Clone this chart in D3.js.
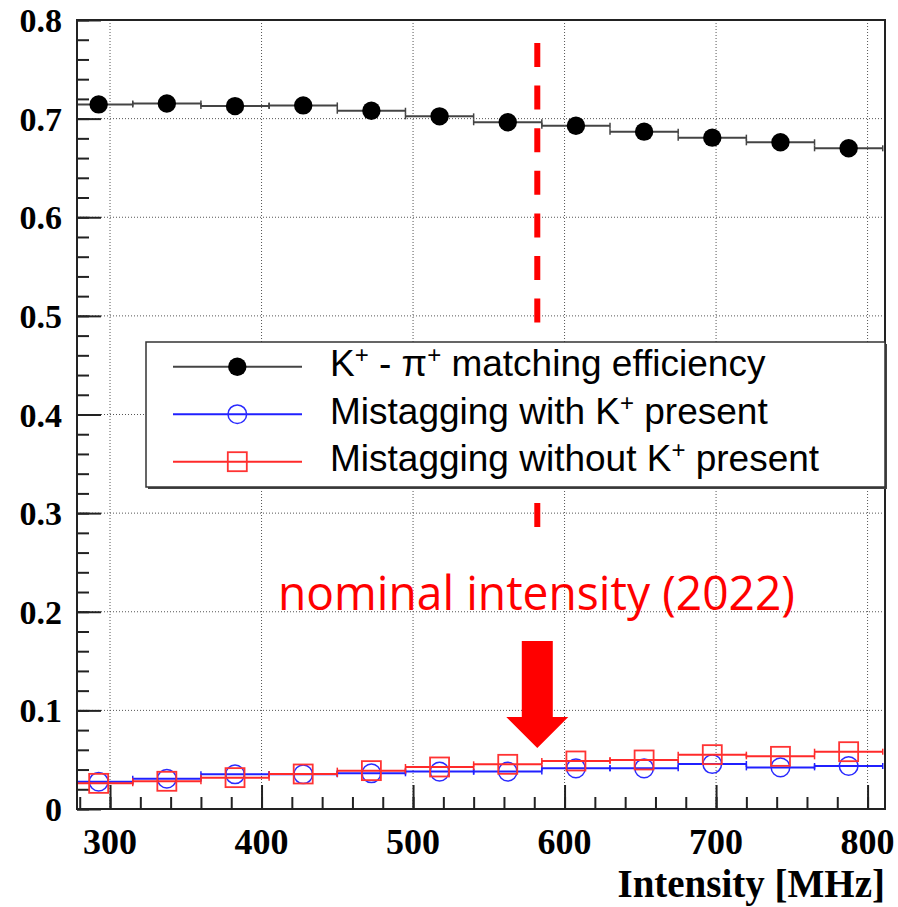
<!doctype html>
<html>
  <head>
    <script src="https://cdnjs.cloudflare.com/ajax/libs/d3/7.8.5/d3.min.js"></script>
    <style>
      body { margin: 0; background: #fff; }
    </style>
  </head>
  <body>
    <svg></svg>
    <script>
      var width = 898,
          height = 907;

      // bins of 45 MHz
      var binCenters = [292.5, 337.5, 382.5, 427.5, 472.5, 517.5, 562.5, 607.5, 652.5, 697.5, 742.5, 787.5];
      var binHalf = 22.5;
      var matchEff   = [0.7144, 0.7154, 0.7127, 0.7134, 0.7080, 0.7023, 0.6963, 0.6928, 0.6868, 0.6807, 0.6760, 0.6699];
      var mistagWith = [0.0277, 0.0307, 0.0352, 0.0352, 0.0362, 0.0379, 0.0379, 0.0412, 0.0412, 0.0456, 0.0422, 0.0436];
      var mistagNo   = [0.0260, 0.0281, 0.0318, 0.0355, 0.0389, 0.0426, 0.0453, 0.0487, 0.0497, 0.0551, 0.0534, 0.0581];
      var xTicks = [300, 400, 500, 600, 700, 800];
      var yTicks = [0, 0.1, 0.2, 0.3, 0.4, 0.5, 0.6, 0.7, 0.8];
      var yTickLabels = ["0", "0.1", "0.2", "0.3", "0.4", "0.5", "0.6", "0.7", "0.8"];
      var nominal = 582;

      var pLeft = 77, pRight = 885, pTop = 20, pBottom = 809;
      var x = d3.scaleLinear().domain([278.2, 811.5]).range([pLeft, pRight]);
      var y = d3.scaleLinear().domain([0, 0.8]).range([pBottom, pTop]);

      var svg = d3.select("svg").attr("width", width).attr("height", height);
      svg.append("clipPath").attr("id", "plotclip").append("rect")
        .attr("x", pLeft).attr("y", pTop).attr("width", pRight - pLeft).attr("height", pBottom - pTop);

      // grid
      svg.selectAll(".gx").data(xTicks).enter().append("line")
        .attr("x1", d => x(d)).attr("x2", d => x(d))
        .attr("y1", pTop).attr("y2", pBottom)
        .style("stroke", "#555").style("stroke-width", 1).style("stroke-dasharray", "1,2");
      svg.selectAll(".gy").data(yTicks.slice(1, 8)).enter().append("line")
        .attr("x1", pLeft).attr("x2", pRight)
        .attr("y1", d => y(d)).attr("y2", d => y(d))
        .style("stroke", "#555").style("stroke-width", 1).style("stroke-dasharray", "1,2");

      // axes
      var xAxis = d3.axisBottom(x).tickValues(d3.range(280, 812, 20)).tickSize(-12).tickFormat("");
      svg.append("g").attr("transform", "translate(0," + pBottom + ")").call(xAxis);
      var xAxisMajor = d3.axisBottom(x).tickValues(xTicks).tickSize(-24).tickFormat("");
      svg.append("g").attr("transform", "translate(0," + pBottom + ")").call(xAxisMajor);
      var yAxis = d3.axisLeft(y).tickValues(d3.range(0, 0.801, 0.02)).tickSize(-12).tickFormat("");
      svg.append("g").attr("transform", "translate(" + pLeft + ",0)").call(yAxis);
      var yAxisMajor = d3.axisLeft(y).tickValues(yTicks).tickSize(-24).tickFormat("");
      svg.append("g").attr("transform", "translate(" + pLeft + ",0)").call(yAxisMajor);
      svg.selectAll(".domain").remove();
      svg.selectAll(".tick line").style("stroke", "#222").style("stroke-width", 2);

      // tick labels
      svg.selectAll(".xl").data(xTicks).enter().append("text")
        .attr("x", d => x(d)).attr("y", 854)
        .attr("text-anchor", "middle")
        .style("font-family", "Liberation Serif").style("font-weight", "bold").style("font-size", "36px")
        .text(d => d);
      svg.selectAll(".yl").data(yTicks).enter().append("text")
        .attr("x", 62).attr("y", d => y(d) + 12)
        .attr("text-anchor", "end")
        .style("font-family", "Liberation Serif").style("font-weight", "bold").style("font-size", "34px")
        .text((d, i) => yTickLabels[i]);
      svg.append("text")
        .attr("x", pRight).attr("y", 897)
        .attr("text-anchor", "end")
        .style("font-family", "Liberation Serif").style("font-weight", "bold").style("font-size", "39px")
        .text("Intensity [MHz]");

      // nominal intensity dashed line
      var xn = x(nominal);
      [[43, 323], [503, 528]].forEach(function(seg) {
        svg.append("line")
          .attr("x1", xn).attr("x2", xn).attr("y1", seg[0]).attr("y2", seg[1])
          .style("stroke", "#ff0000").style("stroke-width", 6).style("stroke-dasharray", "24,18.6");
      });

      // histogram series
      function drawSeries(vals, lineColor, marker) {
        var g = svg.append("g").attr("clip-path", "url(#plotclip)");
        vals.forEach(function(v, i) {
          var c = binCenters[i];
          g.append("line")
            .attr("x1", x(c - binHalf)).attr("x2", x(c + binHalf))
            .attr("y1", y(v)).attr("y2", y(v))
            .style("stroke", lineColor).style("stroke-width", 2);
          [c - binHalf, c + binHalf].forEach(function(e) {
            g.append("line")
              .attr("x1", x(e)).attr("x2", x(e))
              .attr("y1", y(v) - 3).attr("y2", y(v) + 3)
              .style("stroke", lineColor).style("stroke-width", 1.5);
          });
        });
        vals.forEach(function(v, i) {
          marker(g, x(binCenters[i]), y(v));
        });
      }
      function dot(g, cx, cy) {
        g.append("circle").attr("cx", cx).attr("cy", cy).attr("r", 9.2).style("fill", "#000");
      }
      function ring(g, cx, cy) {
        g.append("circle").attr("cx", cx).attr("cy", cy).attr("r", 9.3)
          .style("fill", "none").style("stroke", "#2a2aff").style("stroke-width", 1.5);
      }
      function square(g, cx, cy) {
        g.append("rect").attr("x", cx - 9.5).attr("y", cy - 9.5).attr("width", 19).attr("height", 19)
          .style("fill", "none").style("stroke", "#ff3333").style("stroke-width", 1.8);
      }
      drawSeries(matchEff, "#444", dot);
      drawSeries(mistagWith, "#2020ff", ring);
      drawSeries(mistagNo, "#ff2a2a", square);

      // frame
      svg.append("rect").attr("x", pLeft).attr("y", pTop)
        .attr("width", pRight - pLeft).attr("height", pBottom - pTop)
        .style("fill", "none").style("stroke", "#222").style("stroke-width", 2);

      // legend
      var lg = svg.append("g");
      lg.append("rect").attr("x", 148).attr("y", 344).attr("width", 739).attr("height", 145).style("fill", "#444");
      lg.append("rect").attr("x", 146).attr("y", 342).attr("width", 739).attr("height", 145)
        .style("fill", "#fff").style("stroke", "#333").style("stroke-width", 1.5);
      var rows = [
        { y: 366.7, col: "#444", mk: dot, parts: [["K", 0], ["+", 1], [" - \u03c0", 0], ["+", 1], [" matching efficiency", 0]] },
        { y: 414.2, col: "#2020ff", mk: ring, parts: [["Mistagging with K", 0], ["+", 1], [" present", 0]] },
        { y: 461.7, col: "#ff2a2a", mk: square, parts: [["Mistagging without K", 0], ["+", 1], [" present", 0]] }
      ];
      rows.forEach(function(r) {
        lg.append("line").attr("x1", 173).attr("x2", 302).attr("y1", r.y).attr("y2", r.y)
          .style("stroke", r.col).style("stroke-width", 2);
        r.mk(lg, 237.3, r.y);
        var t = lg.append("text").attr("x", 330).attr("y", r.y + 9.5)
          .style("font-family", "Liberation Sans").style("font-size", "37px").style("fill", "#000");
        r.parts.forEach(function(p) {
          if (p[1]) {
            t.append("tspan").attr("dy", -13).style("font-size", "24px").text(p[0]);
          } else {
            var ts = t.append("tspan").text(p[0]);
            if (t.selectAll("tspan").size() > 1) ts.attr("dy", 13);
          }
        });
      });

      // annotation
      svg.append("text")
        .attr("x", 278).attr("y", 610)
        .attr("textLength", 517).attr("lengthAdjust", "spacingAndGlyphs")
        .style("font-family", "Open Sans").style("font-size", "47px").style("fill", "#ff0000")
        .text("nominal intensity (2022)");

      // arrow
      var ax = x(nominal);
      svg.append("path")
        .attr("d", "M" + (ax - 15.5) + ",641 L" + (ax + 15.5) + ",641 L" + (ax + 15.5) + ",717 L" + (ax + 31) + ",717 L" +
          ax + ",748 L" + (ax - 31) + ",717 L" + (ax - 15.5) + ",717 Z")
        .style("fill", "#ff0000");
    </script>
  </body>
</html>
